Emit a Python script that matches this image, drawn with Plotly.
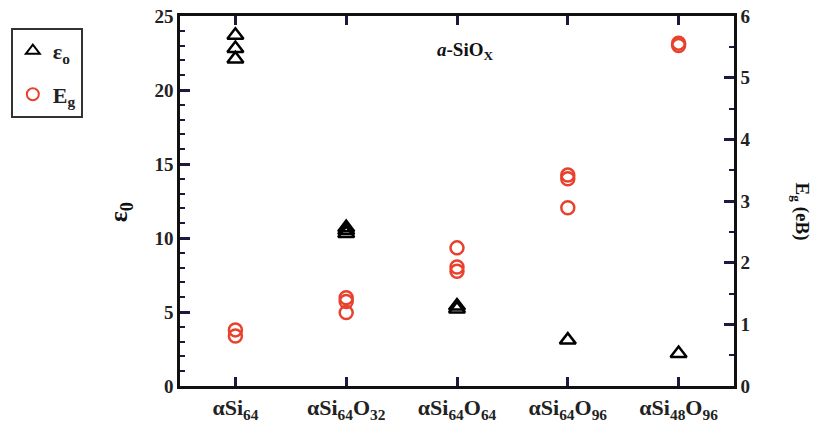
import plotly.graph_objects as go

categories = ["αSi<sub>64</sub>", "αSi<sub>64</sub>O<sub>32</sub>", "αSi<sub>64</sub>O<sub>64</sub>",
              "αSi<sub>64</sub>O<sub>96</sub>", "αSi<sub>48</sub>O<sub>96</sub>"]
eps0_values = [[23.7, 22.8, 22.1], [10.3, 10.5, 10.7], [5.2, 5.4], [3.1], [2.2]]
eg_values = [[0.91, 0.81], [1.43, 1.37, 1.19], [2.24, 1.93, 1.86], [3.42, 3.36, 2.89], [5.52, 5.56]]

FONT = "Liberation Serif"

def flatten(vals):
    xs, ys = [], []
    for c, vs in zip(categories, vals):
        for v in vs:
            xs.append(c)
            ys.append(v)
    return xs, ys

ex, ey = flatten(eps0_values)
gx, gy = flatten(eg_values)

fig = go.Figure()
fig.add_trace(go.Scatter(x=ex, y=ey, mode="markers", name="ε<sub>o</sub>", legendgroup="a",
                         marker=dict(symbol="triangle-up-open", size=14, color="black",
                                     line=dict(width=2.5, color="black"))))
fig.add_trace(go.Scatter(x=gx, y=gy, mode="markers", name="E<sub>g</sub>", xaxis="x2", yaxis="y2",
                         legendgroup="b",
                         marker=dict(symbol="circle-open", size=13, color="#e8412e",
                                     line=dict(width=2.5, color="#e8412e"))))

tickfont = dict(family=FONT, size=19, color="#222", weight=700)
INK = "#111111"
TICK = "#1a1a40"
line_common = dict(showline=True, linecolor=INK, linewidth=2.5, showgrid=False, zeroline=False,
                   automargin=False)

fig.update_layout(
    width=818, height=436,
    margin=dict(l=179, r=84, t=16, b=50),
    paper_bgcolor="white", plot_bgcolor="white",
    xaxis=dict(type="category", categoryorder="array", categoryarray=categories,
               range=[-0.5, 4.5], ticks="inside", ticklen=9, tickcolor=TICK, tickwidth=3,
               tickfont=dict(family=FONT, size=22, color="#222", weight=700), **line_common),
    xaxis2=dict(type="category", categoryorder="array", categoryarray=categories,
                range=[-0.5, 4.5], overlaying="x", side="top", anchor="y2", ticks="inside", ticklen=9,
                tickcolor=TICK, tickwidth=3,
                showticklabels=False, **line_common),
    yaxis=dict(range=[0, 25], dtick=5, tick0=0, ticks="inside", ticklen=10, tickcolor=TICK, tickwidth=3,
               minor=dict(dtick=1, ticks="inside", ticklen=5, tickcolor=TICK, tickwidth=2),
               tickfont=tickfont, **line_common),
    yaxis2=dict(range=[0, 6], overlaying="y", side="right", anchor="x2", dtick=1, tick0=0,
                ticks="inside", ticklen=10, tickcolor=TICK, tickwidth=3,
                minor=dict(dtick=0.5, ticks="inside", ticklen=5, tickcolor=TICK, tickwidth=2),
                tickfont=tickfont, **line_common),
    showlegend=True,
    legend=dict(x=-0.303, y=0.968, xanchor="left", yanchor="top", bordercolor="#333", borderwidth=2,
                font=dict(family=FONT, size=22, color="#222", weight=700), bgcolor="white",
                itemsizing="constant", tracegroupgap=12, itemwidth=30),
    annotations=[
        dict(text="<i>a</i>-SiO<sub>X</sub>", x=0.515, y=0.905, xref="paper", yref="paper",
             xanchor="center", yanchor="middle",
             showarrow=False, font=dict(family=FONT, size=19, color="#111", weight=700)),
        dict(text="ε<sub>0</sub>", x=-0.108, y=0.47, xref="paper", yref="paper", textangle=-90,
             xanchor="center", yanchor="middle",
             showarrow=False, font=dict(family=FONT, size=26, color="#111", weight=700)),
        dict(text="E<sub>g</sub> (eB)", x=1.12, y=0.47, xref="paper", yref="paper", textangle=90,
             xanchor="center", yanchor="middle",
             showarrow=False, font=dict(family=FONT, size=19, color="#111", weight=700)),
    ],
)

fig.write_html("out.html")
